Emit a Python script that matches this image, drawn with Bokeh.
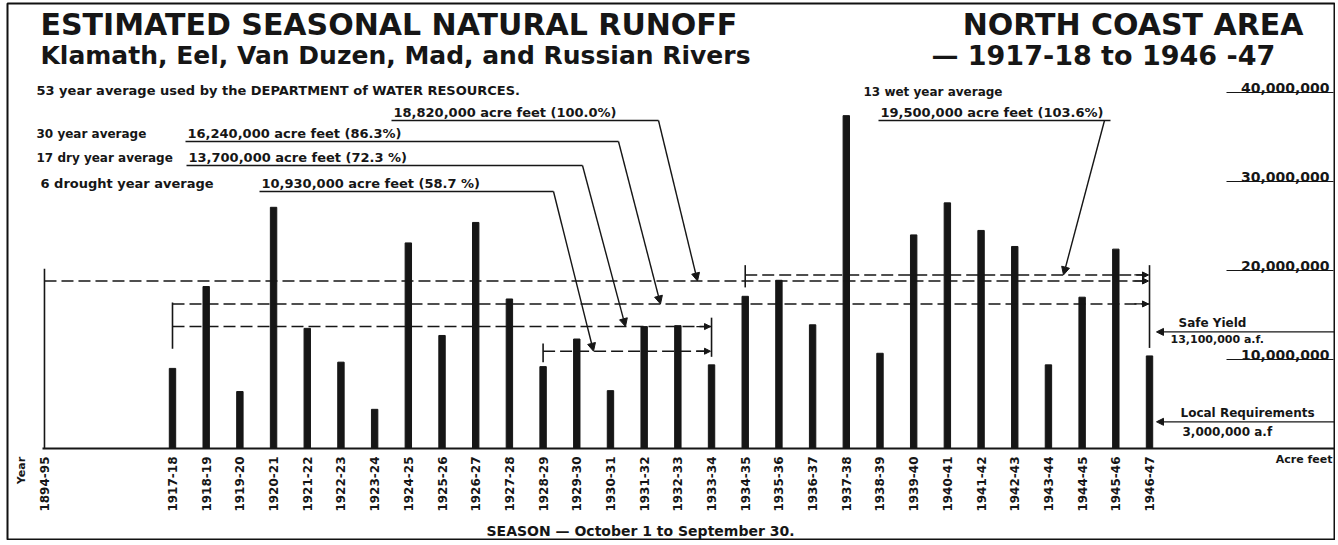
import math
from bokeh.plotting import figure
from bokeh.models import Range1d, Label, Arrow, NormalHead, ColumnDataSource
from bokeh.core.properties import value
from bokeh.embed import file_html
from bokeh.resources import INLINE

# ---------------- data ----------------
seasons = ["1917-18", "1918-19", "1919-20", "1920-21", "1921-22", "1922-23",
           "1923-24", "1924-25", "1925-26", "1926-27", "1927-28", "1928-29",
           "1929-30", "1930-31", "1931-32", "1932-33", "1933-34", "1934-35",
           "1935-36", "1936-37", "1937-38", "1938-39", "1939-40", "1940-41",
           "1941-42", "1942-43", "1943-44", "1944-45", "1945-46", "1946-47"]
runoff_af = [9000000, 18200000, 6400000, 27100000, 13500000, 9700000,
             4400000, 23100000, 12700000, 25400000, 16800000, 9200000,
             12300000, 6500000, 13700000, 13800000, 9400000, 17100000,
             18900000, 13900000, 37400000, 10700000, 24000000, 27600000,
             24500000, 22700000, 9400000, 17000000, 22400000, 10400000]
base_season = "1894-95"

avg_names = ["53 year average used by the DEPARTMENT of WATER RESOURCES.",
             "30 year average", "17 dry year average",
             "6 drought year average", "13 wet year average"]
avg_values = [18820000, 16240000, 13700000, 10930000, 19500000]
avg_texts = ["18,820,000 acre feet  (100.0%)", "16,240,000 acre feet  (86.3%)",
             "13,700,000 acre feet  (72.3 %)", "10,930,000 acre feet  (58.7 %)",
             "19,500,000 acre feet  (103.6%)"]
avg_first = ["1894-95", "1917-18", "1917-18", "1928-29", "1934-35"]
avg_last = ["1946-47", "1946-47", "1933-34", "1933-34", "1946-47"]

safe_yield = 13100000
local_req = 3000000
y_ticks = [10000000, 20000000, 30000000, 40000000]
y_tick_labels = ["10,000,000", "20,000,000", "30,000,000", "40,000,000"]

# ---------------- layout ----------------
LEFT, TOP, RIGHT, BOTTOM = 7, 3, 1335, 540   # page px of the outer frame
SLOT = 33.69          # px per season
X0_PX = 172.0         # page x of first season
ZERO_PX = 448.0       # page y of zero
PX_PER_MAF = 8.9
BASE_POS = -3.8       # slot position of the 1894-95 reference year

pos = {s: i for i, s in enumerate(seasons)}
pos[base_season] = BASE_POS


def px2x(px):
    return (px - X0_PX) / SLOT


def py2y(py):
    return (ZERO_PX - py) / PX_PER_MAF * 1e6


def y2py(y):
    return ZERO_PX - y / 1e6 * PX_PER_MAF


p = figure(width=RIGHT, height=BOTTOM,
           x_range=Range1d(px2x(LEFT), px2x(RIGHT)),
           y_range=Range1d(py2y(BOTTOM), py2y(TOP)),
           x_axis_type=None, y_axis_type=None,
           output_backend="svg", toolbar_location=None,
           min_border_left=LEFT, min_border_top=TOP,
           min_border_right=0, min_border_bottom=0)
p.grid.visible = False
p.outline_line_color = "#111111"
p.outline_line_width = 2
p.background_fill_color = "white"
p.border_fill_color = "white"

INK = "#161616"
FONT = "DejaVu Sans"


def label(px, py, text, size=13, align="left", baseline="middle", bold=True, angle=0.0):
    p.add_layout(Label(x=px2x(px), y=py2y(py), text=text, text_font=FONT,
                       text_font_size=f"{size}px",
                       text_font_style="bold" if bold else "normal",
                       text_align=align, text_baseline=baseline,
                       text_color=INK, angle=angle))


def underline(px0, px1, py, w=1.3):
    p.segment(x0=[px2x(px0)], y0=[py2y(py)], x1=[px2x(px1)], y1=[py2y(py)],
              line_color=INK, line_width=w)


# ---------------- bars ----------------
src = ColumnDataSource(dict(x=[pos[s] for s in seasons], top=runoff_af))
p.vbar(x="x", top="top", bottom=0, width=0.19, source=src,
       fill_color=INK, line_color=INK)

# base line
p.segment(x0=[px2x(42)], y0=[0], x1=[px2x(RIGHT)], y1=[0], line_color=INK, line_width=2)

# ---------------- average lines ----------------
for v, a, b in zip(avg_values, avg_first, avg_last):
    p.segment(x0=[pos[a]], y0=[v], x1=[pos[b]], y1=[v],
              line_color=INK, line_width=1.6, line_dash="12 5")

# brackets (position, low, high)
brackets = [(pos["1894-95"], 0, 20200000),
            (pos["1917-18"], 11200000, 16400000),
            (pos["1928-29"], 9700000, 11800000),
            (pos["1933-34"], 10300000, 14700000),
            (pos["1934-35"], 18100000, 20600000),
            (pos["1946-47"], 11300000, 20600000)]
p.segment(x0=[b[0] for b in brackets], y0=[b[1] for b in brackets],
          x1=[b[0] for b in brackets], y1=[b[2] for b in brackets],
          line_color=INK, line_width=1.6)

# arrowheads at right ends of the average lines
for v, b in zip(avg_values, avg_last):
    p.add_layout(Arrow(end=NormalHead(size=6, fill_color=INK, line_color=INK),
                       x_start=pos[b] - 0.45, y_start=v, x_end=pos[b] - 0.03, y_end=v,
                       line_color=INK, line_width=1.2))

# ---------------- leader texts ----------------
name_px = [(36, 90, 13), (36, 133, 12), (36, 157, 12), (40, 183, 13), (863, 91, 12)]
val_px = [(393, 112), (187, 133), (188, 157), (261, 183), (880, 112)]
ul = [(391, 658, 120), (185, 618, 141), (186, 582, 165), (259, 553, 191), (878, 1110, 120)]
hit_px = [697, 660, 625, 593, 1063]

for i in range(5):
    label(name_px[i][0], name_px[i][1], avg_names[i], size=name_px[i][2])
    label(val_px[i][0], val_px[i][1], avg_texts[i], size=13)
    x0, x1, uy = ul[i]
    underline(x0, x1, uy)
    start_px = x1 if i != 4 else 1104
    p.add_layout(Arrow(end=NormalHead(size=8, fill_color=INK, line_color=INK),
                       x_start=px2x(start_px), y_start=py2y(uy),
                       x_end=px2x(hit_px[i]), y_end=avg_values[i],
                       line_color=INK, line_width=1.4))

# ---------------- right side scale ----------------
p.text(x=[px2x(1329)] * len(y_ticks), y=y_ticks, text=y_tick_labels,
       text_align="right", text_baseline="bottom", text_font=value(FONT),
       text_font_size=value("14px"), text_font_style="bold", text_color=INK)
p.segment(x0=[px2x(1226)] * len(y_ticks), y0=y_ticks,
          x1=[px2x(1333)] * len(y_ticks), y1=y_ticks, line_color=INK, line_width=1.2)

# safe yield / local requirements
for lvl in (safe_yield, local_req):
    p.add_layout(Arrow(end=NormalHead(size=7, fill_color=INK, line_color=INK),
                       x_start=px2x(RIGHT), y_start=lvl, x_end=px2x(1156), y_end=lvl,
                       line_color=INK, line_width=1.2))
label(1178, y2py(safe_yield) - 2, "Safe Yield", size=12, baseline="bottom")
label(1170, y2py(safe_yield) + 1, "13,100,000  a.f.", size=11, baseline="top")
label(1180, y2py(local_req) - 2, "Local Requirements", size=12, baseline="bottom")
label(1182, y2py(local_req) + 3, "3,000,000 a.f", size=12, baseline="top")
label(1332, 459, "Acre feet", size=11, align="right")

# ---------------- x labels ----------------
xl = [base_season] + seasons
p.text(x=[pos[s] for s in xl], y=[py2y(456)] * len(xl), text=xl, angle=math.pi / 2,
       text_align="right", text_baseline="middle", text_font=value(FONT),
       text_font_size=value("12px"), text_font_style="bold", text_color=INK)
label(21, 470, "Year", size=11, angle=math.pi / 2, align="center")
label(640, 530, "SEASON \u2014 October 1 to September 30.", size=14, align="center")

# ---------------- titles ----------------
label(40, 24, "ESTIMATED SEASONAL NATURAL RUNOFF", size=30)
label(1303, 24, "NORTH COAST AREA", size=30, align="right")
label(40, 55, "Klamath, Eel, Van Duzen, Mad, and Russian Rivers", size=25)
label(1303, 55, "\u2014  1917-18  to  1946 -47", size=27, align="right")

open("out.html", "w").write(file_html(p, INLINE))
